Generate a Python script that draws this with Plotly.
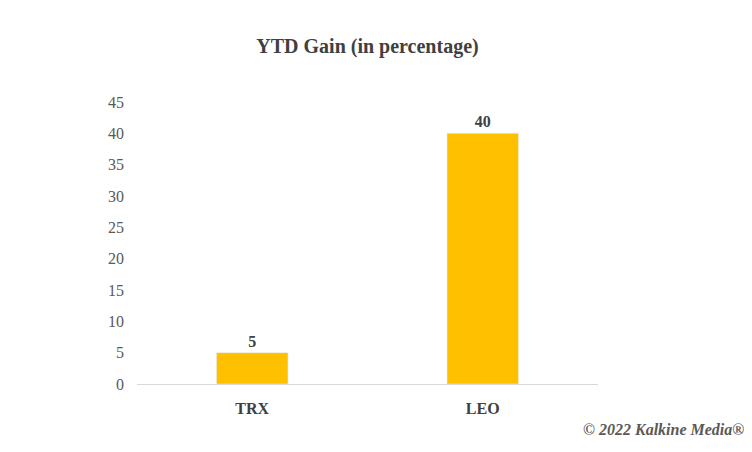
import plotly.graph_objects as go

categories = ["TRX", "LEO"]
values = [5, 40]
y_ticks = [0, 5, 10, 15, 20, 25, 30, 35, 40, 45]

W, H = 744, 444
L, T, PW, PH = 129, 94, 461, 282

fig = go.Figure(go.Bar(
    x=categories, y=values, marker_color="#FFC000", width=0.31,
    text=["<b>%d</b>" % v for v in values], textposition="outside",
    textfont=dict(family="Liberation Serif", size=16, color="#404040"),
    cliponaxis=False,
))
fig.update_layout(
    width=W, height=H,
    margin=dict(l=L, r=W - L - PW, t=T, b=H - T - PH),
    paper_bgcolor="white", plot_bgcolor="white",
    font=dict(family="Liberation Serif", color="#595959"),
    title=dict(text="<b>YTD Gain (in percentage)</b>", x=0.5, xref="paper", y=1 - 38 / H, yanchor="middle",
               font=dict(size=20, color="#404040", family="Liberation Serif")),
    showlegend=False,
    xaxis=dict(showline=True, linecolor="#D9D9D9", ticks="",
               tickvals=categories, ticktext=["<b>%s</b>" % c for c in categories],
               tickfont=dict(size=16, color="#404040", family="Liberation Serif"), ticklabelstandoff=10),
    yaxis=dict(range=[0, 45], tickvals=y_ticks, showgrid=False, zeroline=False,
               tickfont=dict(size=16, color="#595959", family="Liberation Serif"), ticklabelstandoff=12),
    annotations=[dict(text="<b><i>© 2022 Kalkine Media®</i></b>", xref="paper", yref="paper",
                      x=1 + (W - L - PW - 6) / PW, y=-(H - T - PH - 23) / PH, xanchor="right", yanchor="middle",
                      showarrow=False,
                      font=dict(size=16, color="#595959", family="Liberation Serif"))],
)
fig.write_html("out.html")
